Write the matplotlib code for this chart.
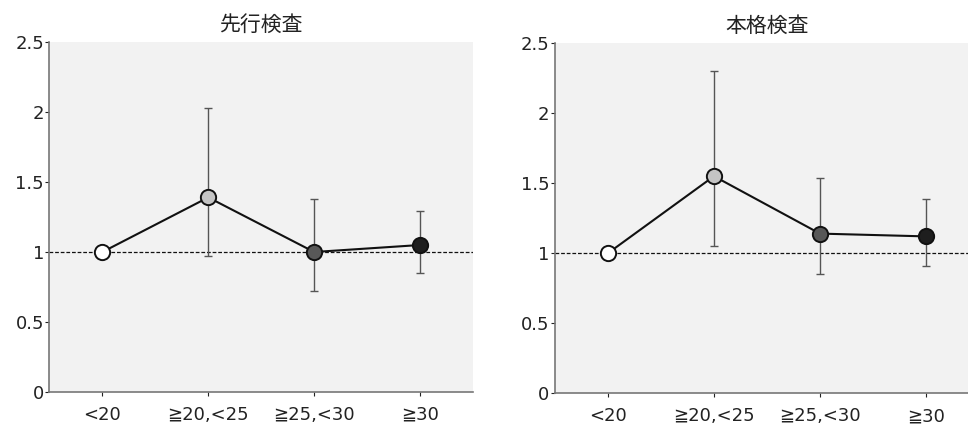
import matplotlib
matplotlib.use("Agg")
import matplotlib.pyplot as plt
from matplotlib.ticker import FuncFormatter

plt.rcParams["font.family"] = ["DejaVu Sans", "Noto Sans CJK JP"]

categories = ["<20", "≧20,<25", "≧25,<30", "≧30"]
marker_fills = ["#ffffff", "#c4c4c4", "#585858", "#1e1e1e"]

titles = ["先行検査", "本格検査"]
pre_values = [1.0, 1.39, 1.0, 1.05]
pre_lower = [1.0, 0.97, 0.72, 0.85]
pre_upper = [1.0, 2.03, 1.38, 1.29]
main_values = [1.0, 1.55, 1.14, 1.12]
main_lower = [1.0, 1.05, 0.85, 0.91]
main_upper = [1.0, 2.30, 1.54, 1.39]
y_ticks = [0, 0.5, 1, 1.5, 2, 2.5]

panels = [
    (titles[0], pre_values, pre_lower, pre_upper),
    (titles[1], main_values, main_lower, main_upper),
]
axes_pos = [
    [0.0511, 0.0798, 0.4375, 0.8216],
    [0.5733, 0.0770, 0.4380, 0.8216],
]

fig = plt.figure(figsize=(9.68, 4.26), dpi=100)

for (title, vals, lo, hi), pos in zip(panels, axes_pos):
    ax = fig.add_axes(pos)
    ax.set_facecolor("#f2f2f2")
    x = list(range(len(categories)))
    has_err = [v != l or v != h for v, l, h in zip(vals, lo, hi)]
    ex = [xi for xi, e in zip(x, has_err) if e]
    ev = [v for v, e in zip(vals, has_err) if e]
    elo = [v - l for v, l, e in zip(vals, lo, has_err) if e]
    ehi = [h - v for v, h, e in zip(vals, hi, has_err) if e]
    ax.errorbar(ex, ev, yerr=[elo, ehi], fmt="none", ecolor="#555555",
                elinewidth=1.0, capsize=3, capthick=1.0, zorder=2)
    ax.axhline(1, color="#111111", lw=0.9, ls=(0, (3, 1.5)), zorder=1)
    ax.plot(x, vals, color="#111111", lw=1.5, zorder=3)
    for xi, v, c in zip(x, vals, marker_fills):
        ax.plot(xi, v, "o", ms=11, mfc=c, mec="#111111", mew=1.4, zorder=4)

    ax.set_xlim(-0.5, 3.5)
    ax.set_ylim(0, 2.5)
    ax.set_xticks(x)
    ax.set_xticklabels(categories, fontsize=13, color="#222222")
    ax.set_yticks(y_ticks)
    ax.yaxis.set_major_formatter(FuncFormatter(lambda v, p: f"{v:g}"))
    ax.tick_params(axis="y", labelsize=13, length=3, pad=1, colors="#222222")
    ax.tick_params(axis="x", length=3, pad=7, colors="#222222")
    for s in ["top", "right"]:
        ax.spines[s].set_visible(False)
    for s in ["left", "bottom"]:
        ax.spines[s].set_color("#777777")
        ax.spines[s].set_linewidth(1.2)
    ax.set_title(title, fontsize=15, family=["Noto Sans CJK JP"], pad=8, color="#222222")

fig.savefig("out.png", dpi=100)
